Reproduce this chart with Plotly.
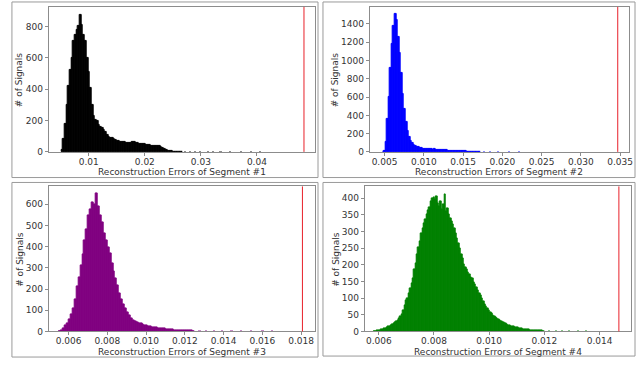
import plotly.graph_objects as go

# ---------------- data ----------------
# Segment 1 histogram
seg1_start = 0.00525
seg1_width = 0.0003
seg1_counts = [10, 80, 180, 300, 420, 520, 600, 710, 745, 775,
               800, 875, 810, 745, 710, 600, 510, 410, 300, 230,
               205, 195, 175, 162, 150, 140, 125, 110, 98, 90,
               86, 80, 76, 72, 68, 66, 64, 62, 60, 58,
               57, 60, 62, 61, 58, 56, 54, 52, 50, 48,
               46, 44, 42, 41, 40, 38, 39, 37, 35, 33,
               28, 22, 15, 9, 6, 4, 3, 3, 2, 2, 2, 1]
seg1_tail_x = [0.0272, 0.0281, 0.0290, 0.0299, 0.0312, 0.0322, 0.0335, 0.0352, 0.0371, 0.0389, 0.0405]
seg1_tail_c = [2, 1, 2, 1, 1, 2, 1, 1, 1, 1, 1]
seg1_threshold = 0.0484

# Segment 2 histogram
seg2_start = 0.0050
seg2_width = 0.0002
seg2_counts = [15, 110, 360, 600, 920, 1180, 1380, 1510, 1440, 1260,
               1080, 860, 640, 470, 330, 230, 165, 125, 95, 78,
               66, 58, 52, 46, 42, 38, 36, 34, 32, 30,
               28, 27, 30, 26, 24, 22, 22, 20, 19, 18,
               17, 16, 15, 14, 13, 12, 12, 11, 10, 9,
               8, 7, 6, 5, 5, 4, 3, 3, 2, 2, 2, 1]
seg2_tail_x = [0.0048, 0.0176, 0.0184, 0.0195, 0.0208, 0.0221]
seg2_tail_c = [2, 1, 1, 1, 1, 1]
seg2_threshold = 0.0347

# Segment 3 histogram
seg3_start = 0.00555
seg3_width = 0.0001
seg3_counts = [2, 6, 12, 28, 40, 55, 80, 110, 150, 210,
               255, 310, 365, 430, 480, 545, 575, 610, 600, 650,
               590, 545, 515, 460, 430, 395, 370, 320, 285, 250,
               215, 180, 150, 125, 108, 90, 76, 60, 52, 48,
               42, 38, 36, 32, 30, 27, 25, 22, 20, 18,
               17, 15, 14, 13, 12, 11, 10, 9, 8, 7,
               7, 6, 5, 5, 4, 4, 3, 3, 3, 2]
seg3_tail_x = [0.01275, 0.01310, 0.01350, 0.01390, 0.01440, 0.01490, 0.01540, 0.01600, 0.01650]
seg3_tail_c = [2, 2, 1, 2, 1, 1, 1, 1, 1]
seg3_threshold = 0.01807

# Segment 4 histogram
seg4_start = 0.00585
seg4_width = 0.00005
seg4_counts = [1, 1, 2, 3, 4, 5, 6, 8, 10, 12,
               14, 16, 19, 22, 25, 28, 31, 34, 38, 45,
               52, 62, 78, 92, 100, 115, 128, 145, 160, 185,
               205, 230, 252, 270, 295, 310, 325, 335, 350, 362,
               372, 390, 398, 402, 395, 405, 385, 375, 390, 365,
               380, 412, 360, 368, 352, 340, 330, 322, 310, 295,
               280, 265, 250, 232, 218, 200, 192, 185, 178, 172,
               162, 158, 148, 140, 132, 122, 115, 108, 100, 90,
               82, 76, 70, 64, 58, 54, 48, 44, 42, 38,
               36, 33, 30, 28, 26, 23, 21, 19, 18, 16,
               15, 14, 13, 12, 11, 10, 9, 8, 7, 7,
               6, 5, 5, 4, 4, 3, 3, 3, 2, 2,
               2, 2, 1, 1]
seg4_tail_x = [0.01215, 0.01240, 0.01265, 0.01290, 0.01320, 0.01350]
seg4_tail_c = [1, 1, 1, 1, 1, 1]
seg4_threshold = 0.01470

x_titles = ["Reconstruction Errors of Segment #1", "Reconstruction Errors of Segment #2",
            "Reconstruction Errors of Segment #3", "Reconstruction Errors of Segment #4"]
y_title = "# of Signals"

x_ticks = [[0.01, 0.02, 0.03, 0.04],
           [0.005, 0.010, 0.015, 0.020, 0.025, 0.030, 0.035],
           [0.006, 0.008, 0.010, 0.012, 0.014, 0.016, 0.018],
           [0.006, 0.008, 0.010, 0.012, 0.014]]
x_tick_text = [["0.01", "0.02", "0.03", "0.04"],
               ["0.005", "0.010", "0.015", "0.020", "0.025", "0.030", "0.035"],
               ["0.006", "0.008", "0.010", "0.012", "0.014", "0.016", "0.018"],
               ["0.006", "0.008", "0.010", "0.012", "0.014"]]
y_ticks = [[0, 200, 400, 600, 800],
           [0, 200, 400, 600, 800, 1000, 1200, 1400],
           [0, 100, 200, 300, 400, 500, 600],
           [0, 50, 100, 150, 200, 250, 300, 350, 400]]

# ---------------- layout / style ----------------
W, H = 641, 365
colors = ["#000000", "#0000ff", "#800080", "#008000"]
x_ranges = [[0.00285, 0.05037], [0.00311, 0.03614], [0.00497, 0.01872], [0.00549, 0.01514]]
y_ranges = [[0, 924], [0, 1587], [0, 684], [0, 435]]
# plot areas in pixels: (left, right, top, bottom)
plot_px = [(49, 317, 7, 154), (372, 633, 7, 154), (49, 317, 189, 336), (367, 635, 189, 336)]
# outer frames in pixels
box_px = [(12, 320, 2, 180), (325, 639, 2, 180), (12, 320, 185, 362), (325, 639, 185, 361)]
ytitle_px = [20, 338, 20, 338]

segs = [
    (seg1_start, seg1_width, seg1_counts, seg1_tail_x, seg1_tail_c, seg1_threshold),
    (seg2_start, seg2_width, seg2_counts, seg2_tail_x, seg2_tail_c, seg2_threshold),
    (seg3_start, seg3_width, seg3_counts, seg3_tail_x, seg3_tail_c, seg3_threshold),
    (seg4_start, seg4_width, seg4_counts, seg4_tail_x, seg4_tail_c, seg4_threshold),
]

fig = go.Figure()
font_fam = "DejaVu Sans, Arial, sans-serif"
tick_color = "#333333"
spine_color = "#8c8c8c"

def px_x(v):
    return v / W

def px_y(v):
    return 1 - v / H

for i, (start, bw, counts, tx, tc, thr) in enumerate(segs):
    n = i + 1
    xa = "x" if n == 1 else f"x{n}"
    ya = "y" if n == 1 else f"y{n}"
    centers = [start + k * bw for k in range(len(counts))]
    fig.add_trace(go.Bar(x=centers, y=counts, width=bw,
                         marker=dict(color=colors[i], line=dict(color=colors[i], width=1)),
                         xaxis=xa, yaxis=ya, showlegend=False))
    # sparse tail bins (very small counts)
    fig.add_trace(go.Bar(x=tx, y=tc, width=bw,
                         marker=dict(color=colors[i], opacity=0.45, line=dict(width=0)),
                         xaxis=xa, yaxis=ya, showlegend=False))
    l, r, t, b = plot_px[i]
    axkey_x = "xaxis" if n == 1 else f"xaxis{n}"
    axkey_y = "yaxis" if n == 1 else f"yaxis{n}"
    fig.layout[axkey_x] = dict(domain=[px_x(l), px_x(r)], range=x_ranges[i], anchor=ya,
                               tickvals=x_ticks[i], ticktext=x_tick_text[i],
                               ticks="outside", ticklen=3, tickcolor=spine_color,
                               ticklabelstandoff=-2,
                               showline=True, linecolor=spine_color, linewidth=1, mirror=True,
                               showgrid=False, zeroline=False,
                               tickfont=dict(family=font_fam, size=9, color=tick_color))
    fig.layout[axkey_y] = dict(domain=[px_y(b), px_y(t)], range=y_ranges[i], anchor=xa,
                               tickvals=y_ticks[i],
                               ticks="outside", ticklen=3, tickcolor=spine_color,
                               showline=True, linecolor=spine_color, linewidth=1, mirror=True,
                               showgrid=False, zeroline=False,
                               tickfont=dict(family=font_fam, size=9, color=tick_color))
    # threshold line
    fig.add_shape(type="line", xref=xa, yref=f"{ya} domain", x0=thr, x1=thr, y0=0, y1=1,
                  line=dict(color="#e8202a", width=1))
    # outer frame
    bl, br, bt, bb = box_px[i]
    fig.add_shape(type="rect", xref="paper", yref="paper",
                  x0=px_x(bl), x1=px_x(br), y0=px_y(bb), y1=px_y(bt),
                  line=dict(color="#9a9a9a", width=1), fillcolor="rgba(0,0,0,0)", layer="below")
    # axis titles
    fig.add_annotation(text=x_titles[i], xref="paper", yref="paper",
                       x=px_x((l + r) / 2), y=px_y(b + 20.5), showarrow=False,
                       xanchor="center", yanchor="middle",
                       font=dict(family=font_fam, size=9, color=tick_color))
    fig.add_annotation(text=y_title, xref="paper", yref="paper",
                       x=px_x(ytitle_px[i]), y=px_y((t + b) / 2), showarrow=False, textangle=-90,
                       xanchor="center", yanchor="middle",
                       font=dict(family=font_fam, size=9, color=tick_color))

fig.update_layout(width=W, height=H, margin=dict(l=0, r=0, t=0, b=0),
                  paper_bgcolor="white", plot_bgcolor="white",
                  bargap=0, barmode="overlay")

fig.write_html("out.html", config={"displayModeBar": False},
               post_script="document.body.style.margin='0';document.body.style.padding='0';")
